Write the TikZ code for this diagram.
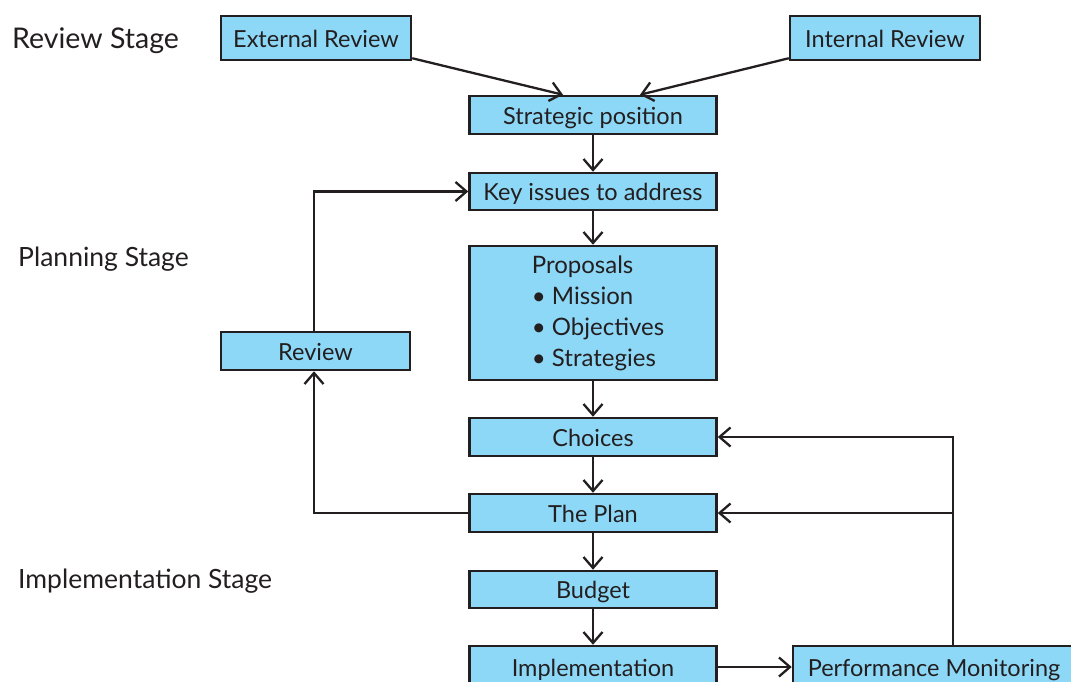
\documentclass[tikz,border=0pt]{standalone}
\usepackage{fontspec}
\setmainfont{Lato}
\usetikzlibrary{arrows.meta,calc}
\definecolor{boxfill}{HTML}{8DD8F6}
\definecolor{ink}{HTML}{231F20}
\tikzset{
  box/.style={draw=ink, fill=boxfill, line width=2.5pt, inner sep=0pt, text=ink, text height=23pt, text depth=5pt, font=\fontsize{23.5}{30}\selectfont},
  stagelabel/.style={anchor=base west, inner sep=0pt, text=ink, font=\fontsize{26.5}{32}\selectfont},
  arr/.style={draw=ink, line width=2.3pt, -{Straight Barb[length=11pt,width=19pt]}},
}
\begin{document}
\begin{tikzpicture}[x=1pt,y=-1pt]
\useasboundingbox (0,0) rectangle (1071,681);
\clip (0,0) rectangle (1071,681);
\fill[white] (0,0) rectangle (1071,681);
% stage labels
\node[stagelabel, font=\fontsize{28.5}{34}\selectfont] (s1) at (12,48) {Review Stage};
\node[stagelabel] (s2) at (18,266) {Planning Stage};
\node[stagelabel] (s3) at (18,588) {Implementation Stage};
% boxes
\node[box, minimum width=190pt, minimum height=44pt] (ext) at (316,38) {External Review};
\node[box, minimum width=190pt, minimum height=44pt] (int) at (885,38) {Internal Review};
\node[box, minimum width=247pt, minimum height=38pt] (strat) at (593,115) {Strategic position};
\node[box, minimum width=247pt, minimum height=37pt] (key) at (593,191.5) {Key issues to address};
\node[box, minimum width=247pt, minimum height=134pt, text height=, text depth=, align=left, font=\fontsize{24}{31}\selectfont] (prop) at (593,313) {\hspace*{10pt}Proposals\\\hspace*{10pt}\textbullet\ Mission\\\hspace*{10pt}\textbullet\ Objectives\\\hspace*{10pt}\textbullet\ Strategies};
\node[box, minimum width=189pt, minimum height=38pt] (review) at (315.5,351) {Review};
\node[box, minimum width=247pt, minimum height=38pt] (choices) at (593,437) {Choices};
\node[box, minimum width=247pt, minimum height=38pt] (plan) at (593,513) {The Plan};
\node[box, minimum width=247pt, minimum height=37pt] (budget) at (593,589.5) {Budget};
\node[box, minimum width=247pt, minimum height=42pt] (impl) at (593,667) {Implementation};
\node[box, minimum width=282pt, minimum height=42pt] (perf) at (934,667) {Performance Monitoring};
% connectors
\draw[arr] ([yshift=3pt]ext.south east) -- ([xshift=-30pt]strat.north);
\draw[arr] ([yshift=3pt]int.south west) -- ([xshift=47pt]strat.north);
\draw[arr] (strat) -- (key);
\draw[arr] (key) -- (prop);
\draw[arr] (prop) -- (choices);
\draw[arr] (choices) -- (plan);
\draw[arr] (plan) -- (budget);
\draw[arr] (budget) -- (impl);
\draw[arr] (impl.east) -- (perf.west);
\draw[arr] ([xshift=19pt]perf.north) |- (choices.east);
\draw[arr] ([xshift=19pt]perf.north) |- (plan.east);
\draw[arr] (plan.west) -| ([xshift=-1.5pt]review.south);
\draw[arr] ([xshift=-1.5pt]review.north) |- (key.west);
\end{tikzpicture}
\end{document}
